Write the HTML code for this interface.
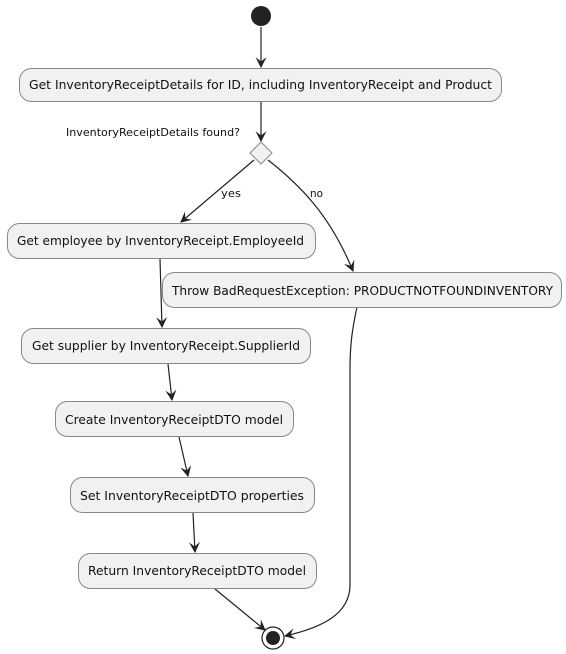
<!DOCTYPE html>
<html><head><style>body{margin:0;background:#fff}svg{display:block}</style></head><body>
<svg width="566" height="654" xmlns="http://www.w3.org/2000/svg" font-family="DejaVu Sans, Liberation Sans, sans-serif" font-size="12">
<defs><marker id="a" viewBox="0 0 10 10" refX="9" refY="5" markerWidth="11" markerHeight="11" orient="auto" markerUnits="userSpaceOnUse"><path d="M0,0 L10,5 L0,10 L4,5 z" fill="#222"/></marker></defs>
<g stroke="#222" stroke-width="1.2" fill="none" marker-end="url(#a)">
<line x1="261" y1="27" x2="261" y2="67"/>
<line x1="261" y1="101" x2="261" y2="141"/>
<line x1="254" y1="160" x2="181" y2="222"/>
<path d="M268,160 C300,185 330,215 353,271"/>
<line x1="160" y1="259" x2="162" y2="327"/>
<path d="M357,307 C352,330 350,345 350,370 L350,585 C350,615 320,628 285,636"/>
<line x1="168" y1="364" x2="172" y2="400"/>
<line x1="179" y1="437" x2="188" y2="476"/>
<line x1="193" y1="513" x2="195" y2="552"/>
<line x1="215" y1="589" x2="265" y2="630"/>
</g>
<circle cx="261" cy="16" r="10" fill="#222"/>
<g fill="#f1f1f1" stroke="#888" stroke-width="1">
<rect x="19.5" y="68.5" width="482" height="33" rx="12"/>
<polygon points="261,142 272,153 261,164 250,153"/>
<rect x="7.5" y="223.5" width="308" height="35" rx="12"/>
<rect x="162.5" y="272.5" width="399" height="35" rx="12"/>
<rect x="21.5" y="328.5" width="289" height="35" rx="12"/>
<rect x="55.5" y="401.5" width="238" height="35" rx="12"/>
<rect x="70.5" y="477.5" width="244" height="35" rx="12"/>
<rect x="78.5" y="553.5" width="238" height="35" rx="12"/>
</g>
<circle cx="273" cy="638" r="11" fill="#fff" stroke="#222" stroke-width="1.2"/>
<circle cx="273" cy="638" r="7" fill="#222"/>
<g fill="#111" lengthAdjust="spacingAndGlyphs">
<text x="29" y="89" textLength="463" lengthAdjust="spacingAndGlyphs">Get InventoryReceiptDetails for ID, including InventoryReceipt and Product</text>
<text x="66" y="136" font-size="11" textLength="174" lengthAdjust="spacingAndGlyphs">InventoryReceiptDetails found?</text>
<text x="221" y="197" font-size="11" textLength="20" lengthAdjust="spacingAndGlyphs">yes</text>
<text x="310" y="197" font-size="11" textLength="13" lengthAdjust="spacingAndGlyphs">no</text>
<text x="17" y="245" textLength="287" lengthAdjust="spacingAndGlyphs">Get employee by InventoryReceipt.EmployeeId</text>
<text x="172" y="295" textLength="381" lengthAdjust="spacingAndGlyphs">Throw BadRequestException: PRODUCTNOTFOUNDINVENTORY</text>
<text x="32" y="350" textLength="268" lengthAdjust="spacingAndGlyphs">Get supplier by InventoryReceipt.SupplierId</text>
<text x="65" y="424" textLength="218" lengthAdjust="spacingAndGlyphs">Create InventoryReceiptDTO model</text>
<text x="80" y="500" textLength="224" lengthAdjust="spacingAndGlyphs">Set InventoryReceiptDTO properties</text>
<text x="88" y="575" textLength="218" lengthAdjust="spacingAndGlyphs">Return InventoryReceiptDTO model</text>
</g>
</svg>
</body></html>
